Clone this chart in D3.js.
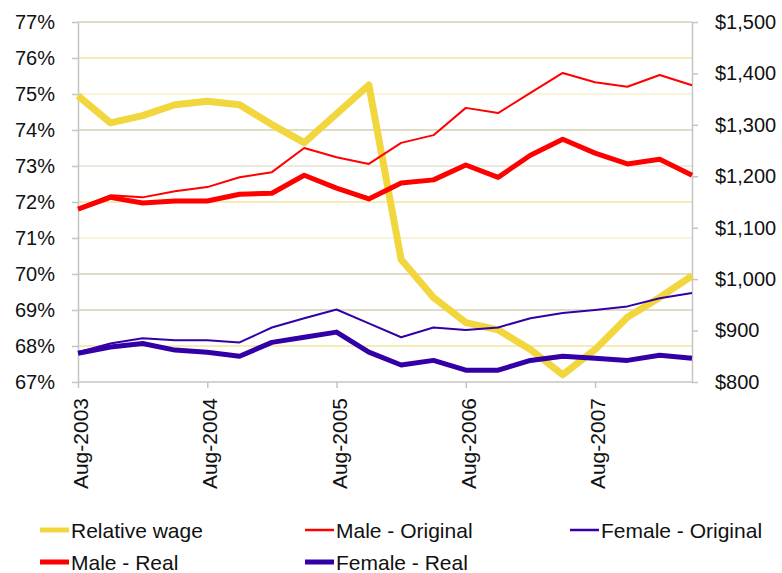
<!DOCTYPE html>
<html lang='en'>
<head>
	<meta charset='UTF-8'>
	<title>Relative wage</title>
	<style>
		body { margin: 0; background: #fff; }
		svg text { font-family: Arial, 'Liberation Sans', sans-serif; fill: #111; }
	</style>
</head>
<body>

<svg></svg>

<script src='https://d3js.org/d3.v7.min.js'></script>
<script>
const months = ["Aug-2003", "Nov-2003", "Feb-2004", "May-2004", "Aug-2004", "Nov-2004", "Feb-2005", "May-2005",
    "Aug-2005", "Nov-2005", "Feb-2006", "May-2006", "Aug-2006", "Nov-2006", "Feb-2007", "May-2007",
    "Aug-2007", "Nov-2007", "Feb-2008", "May-2008"]
const monthTicks = ["Aug-2003", "Aug-2004", "Aug-2005", "Aug-2006", "Aug-2007"]

// left axis, percent
const relativeWage = [74.95, 74.2, 74.4, 74.7, 74.8, 74.7, 74.15, 73.65, 74.45, 75.25,
    70.4, 69.35, 68.65, 68.45, 67.9, 67.2, 67.9, 68.8, 69.35, 69.95]
// right axis, dollars
const maleOriginal = [1138, 1163, 1159, 1171, 1179, 1198, 1208, 1255, 1237, 1224,
    1265, 1280, 1333, 1323, 1362, 1401, 1383, 1374, 1397, 1377]
const femaleOriginal = [858, 875, 885, 881, 881, 877, 906, 924, 941, 914,
    887, 906, 901, 906, 924, 934, 940, 947, 963, 973]
const maleReal = [1136, 1159, 1148, 1152, 1152, 1165, 1167, 1202, 1177, 1156,
    1187, 1193, 1222, 1198, 1241, 1272, 1245, 1224, 1233, 1202]
const femaleReal = [856, 868, 875, 862, 858, 850, 877, 887, 897, 858,
    833, 842, 823, 823, 842, 850, 846, 842, 852, 846]

const pctTicks = [67, 68, 69, 70, 71, 72, 73, 74, 75, 76, 77]
const dollarTicks = [800, 900, 1000, 1100, 1200, 1300, 1400, 1500]

const width = 782
const height = 573
const plotLeft = 78, plotRight = 692, plotTop = 22, plotBottom = 382

const svg = d3.select('svg')
    .attr('width', width)
    .attr('height', height)

const x = d3.scalePoint().domain(months).range([plotLeft, plotRight])
const yPct = d3.scaleLinear().domain([67, 77]).range([plotBottom, plotTop])
const yDollar = d3.scaleLinear().domain([800, 1500]).range([plotBottom, plotTop])

// gridlines (the source has a mix of olive-grey and pale yellow rules)
const gridColour = d => ({77: '#d6d2b4', 76: '#f4e49c', 75: '#f7efcc', 74: '#d6d2b4', 73: '#e6e4d4',
    72: '#f4e49c', 71: '#f7efcc', 70: '#d6d2b4', 69: '#d6d2b4', 68: '#f4e49c'})[d] || '#c8c8c8'

svg.append('g')
    .selectAll('line')
    .data(pctTicks.filter(d => d > 67))
    .join('line')
    .attr('x1', plotLeft).attr('x2', plotRight)
    .attr('y1', d => yPct(d)).attr('y2', d => yPct(d))
    .attr('stroke', gridColour)
    .attr('stroke-width', 1.5)

const styleAxis = g => {
    g.select('.domain').attr('stroke', '#c4c4c4').attr('stroke-width', 1.5)
    g.selectAll('.tick line').attr('stroke', '#c4c4c4').attr('stroke-width', 1.5)
    g.selectAll('text').attr('font-size', 20).style('font-family', 'Arial, "Liberation Sans", sans-serif')
}

svg.append('g')
    .attr('transform', `translate(${plotLeft},0)`)
    .call(d3.axisLeft(yPct).tickValues(pctTicks).tickFormat(d => d + '%').tickSize(6).tickPadding(17).tickSizeOuter(0))
    .call(styleAxis)

svg.append('g')
    .attr('transform', `translate(${plotRight},0)`)
    .call(d3.axisRight(yDollar).tickValues(dollarTicks).tickFormat(d3.format('$,')).tickSize(6).tickPadding(17).tickSizeOuter(0))
    .call(styleAxis)

const xAxis = svg.append('g')
    .attr('transform', `translate(0,${plotBottom})`)
    .call(d3.axisBottom(x).tickValues(monthTicks).tickSize(6).tickSizeOuter(0))
    .call(styleAxis)

xAxis.select('.domain').attr('d', `M${plotLeft},0H${plotRight}`)
xAxis.selectAll('.tick text')
    .attr('transform', 'rotate(-90)')
    .attr('text-anchor', 'end')
    .attr('font-size', 21)
    .attr('x', -16)
    .attr('y', 2)
    .attr('dy', '0.36em')

const series = [
    {name: 'Relative wage', values: relativeWage, y: yPct, colour: '#f2d63e', width: 7},
    {name: 'Male - Original', values: maleOriginal, y: yDollar, colour: '#ff0000', width: 2},
    {name: 'Female - Original', values: femaleOriginal, y: yDollar, colour: '#3300a8', width: 2},
    {name: 'Male - Real', values: maleReal, y: yDollar, colour: '#ff0000', width: 5},
    {name: 'Female - Real', values: femaleReal, y: yDollar, colour: '#3300a8', width: 5}
]

svg.append('g')
    .selectAll('path')
    .data(series)
    .join('path')
    .attr('fill', 'none')
    .attr('stroke', d => d.colour)
    .attr('stroke-width', d => d.width)
    .attr('stroke-linejoin', 'round')
    .attr('d', d => d3.line()
        .x((v, i) => x(months[i]))
        .y(v => d.y(v))(d.values))

// legend, three columns and two rows
const legendPos = [[40, 530], [305, 530], [570, 530], [40, 562], [305, 562]]
const legend = svg.append('g')
    .selectAll('g')
    .data(series)
    .join('g')
    .attr('transform', (d, i) => `translate(${legendPos[i]})`)

legend.append('line')
    .attr('x1', 0).attr('x2', 29)
    .attr('stroke', d => d.colour)
    .attr('stroke-width', d => d.width === 2 ? 2.5 : 5)

legend.append('text')
    .attr('x', 31)
    .attr('dy', '0.36em')
    .attr('font-size', 21)
    .text(d => d.name)

</script>
</body>
</html>
